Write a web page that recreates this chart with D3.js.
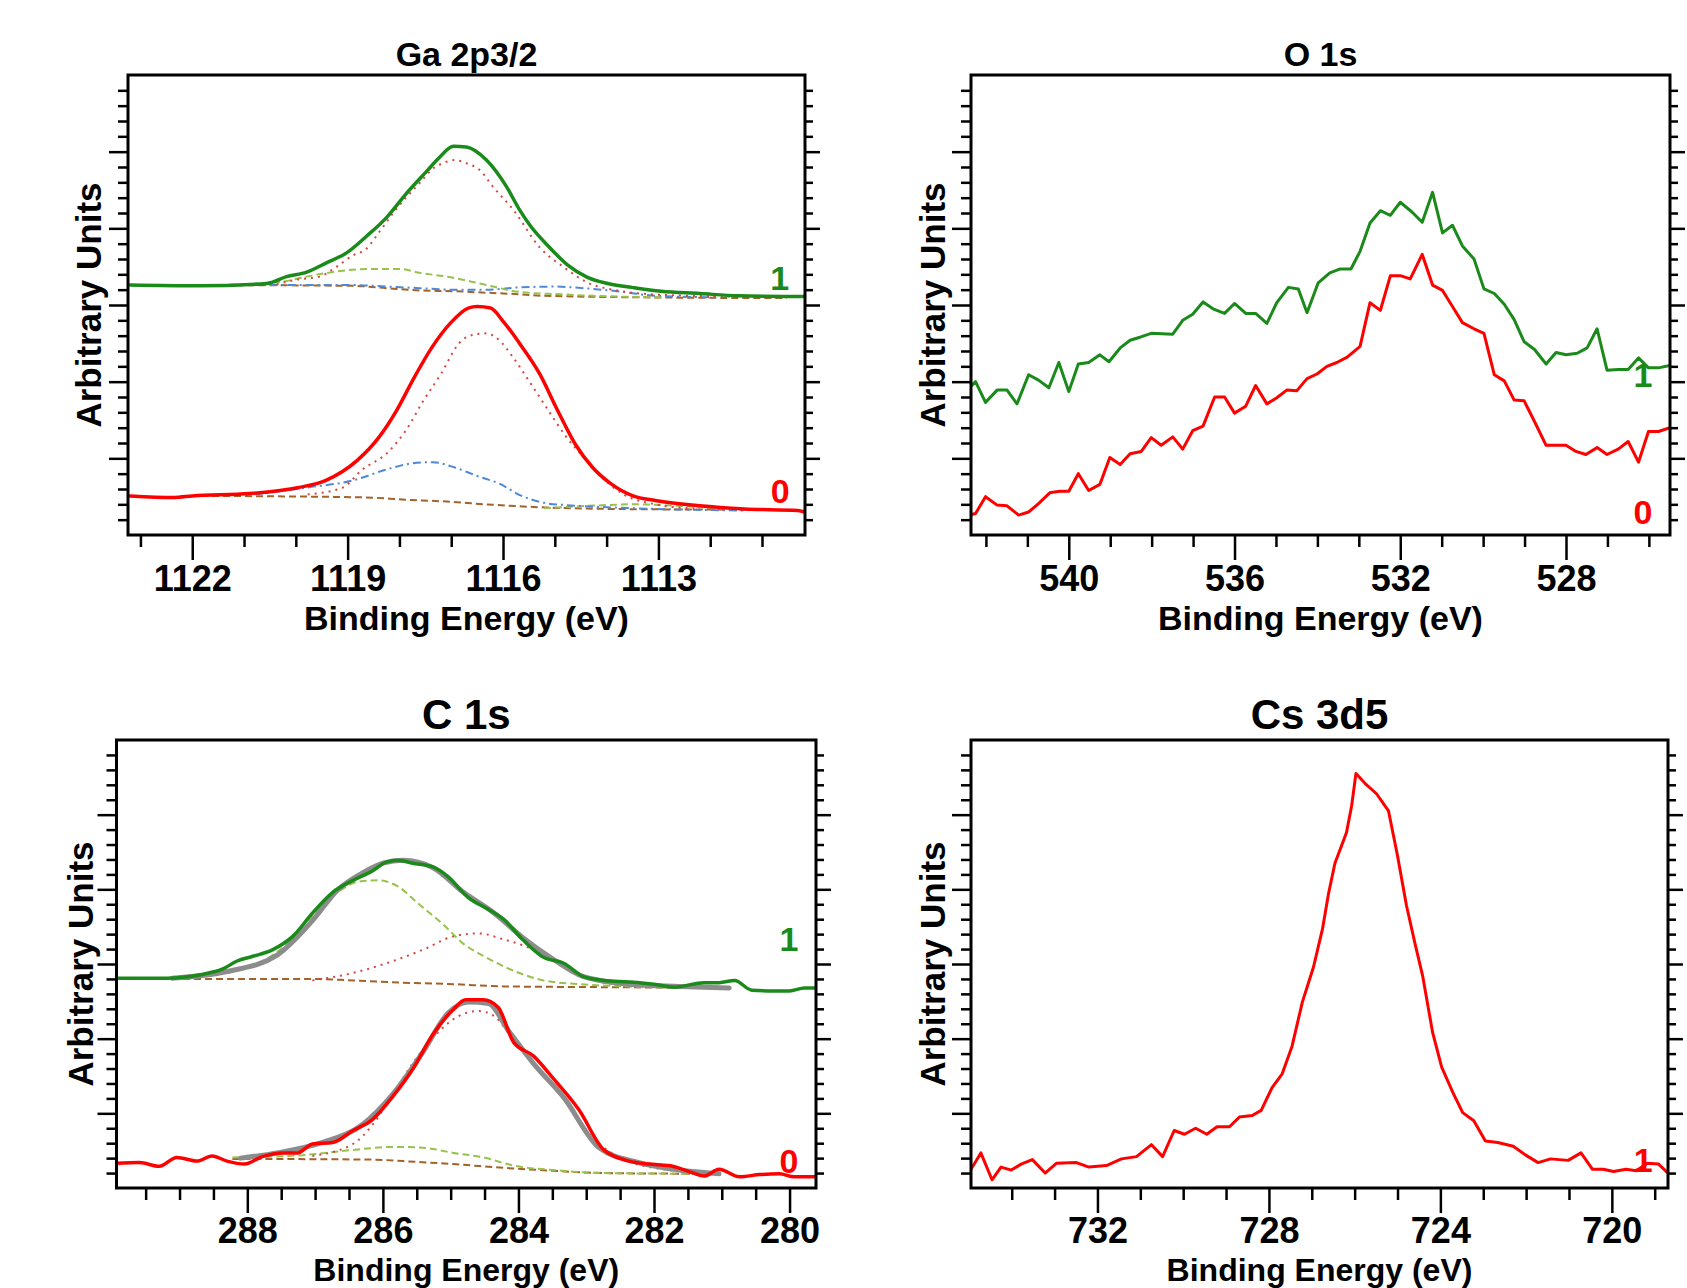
<!DOCTYPE html>
<html>
<head>
<meta charset="utf-8">
<script src="https://cdn.jsdelivr.net/npm/d3@7"></script>
<style>
  body { margin: 0; background: #fff; }
  svg text { font-family: "Liberation Sans", Arial, sans-serif; font-weight: bold; }
</style>
</head>
<body>
<svg id="chart" width="1687" height="1288"></svg>
<script>
// ---- data: [binding energy (eV), intensity (arb. units, stacked)] ----

// Ga 2p3/2, spectrum 1 (green) and its fit components
const gaData1 = [[1123.2,3.26],[1121.9,3.25],[1120.56,3.28],[1120.18,3.37],[1119.79,3.43],[1119.41,3.55],[1119.02,3.68],[1118.63,3.9],[1118.25,4.14],[1117.86,4.46],[1117.48,4.74],[1117.22,4.93],[1116.96,5.07],[1116.71,5.06],[1116.32,4.89],[1115.93,4.54],[1115.68,4.24],[1115.48,4.04],[1115.1,3.75],[1114.75,3.52],[1114.37,3.36],[1113.98,3.28],[1113.51,3.23],[1112.95,3.18],[1112.2,3.15],[1111.46,3.12],[1110.17,3.11]]
const gaPeakA1 = [[1120.37,3.27],[1119.99,3.33],[1119.54,3.37],[1119.21,3.5],[1118.89,3.65],[1118.66,3.72],[1118.38,3.96],[1118.12,4.2],[1117.86,4.41],[1117.61,4.59],[1117.35,4.78],[1117.16,4.85],[1116.93,4.89],[1116.71,4.85],[1116.45,4.76],[1116.19,4.54],[1115.8,4.24],[1115.29,3.75],[1114.82,3.49],[1114.36,3.29],[1113.8,3.19],[1112.86,3.13],[1111.46,3.11]]
const gaPeakB1 = [[1121.5,3.26],[1120.31,3.3],[1119.79,3.37],[1119.28,3.43],[1118.63,3.47],[1117.99,3.47],[1117.61,3.42],[1117.09,3.37],[1116.58,3.3],[1116.19,3.24],[1115.68,3.17],[1114.9,3.14],[1114.26,3.12],[1112.86,3.1]]
const gaPeakC1 = [[1121.2,3.26],[1118.89,3.26],[1118.25,3.24],[1117.61,3.22],[1116.96,3.2],[1116.32,3.2],[1115.68,3.23],[1115.0,3.24],[1114.45,3.22],[1113.8,3.18],[1113.05,3.12],[1111.9,3.1]]
const gaBack1 = [[1121.78,3.26],[1118.89,3.25],[1118.25,3.22],[1117.61,3.19],[1116.96,3.18],[1116.32,3.16],[1115.68,3.14],[1115.2,3.12],[1113.33,3.1],[1110.52,3.09]]

// Ga 2p3/2, spectrum 0 (red)
const gaData0 = [[1123.2,0.51],[1122.35,0.49],[1122.0,0.51],[1120.89,0.54],[1119.94,0.62],[1119.43,0.71],[1118.82,0.97],[1118.39,1.28],[1118.05,1.63],[1117.71,2.06],[1117.36,2.46],[1117.02,2.76],[1116.67,2.96],[1116.5,2.98],[1116.24,2.96],[1115.99,2.78],[1115.64,2.46],[1115.3,2.11],[1114.95,1.63],[1114.61,1.19],[1114.27,0.88],[1113.92,0.67],[1113.49,0.51],[1113.06,0.45],[1112.2,0.38],[1111.34,0.34],[1110.31,0.32],[1110.17,0.3]]
const gaPeakA0 = [[1119.77,0.53],[1119.09,0.62],[1118.74,0.84],[1118.22,1.08],[1117.88,1.36],[1117.53,1.76],[1117.19,2.11],[1116.85,2.5],[1116.59,2.61],[1116.33,2.63],[1116.07,2.54],[1115.82,2.33],[1115.47,1.98],[1115.13,1.63],[1114.78,1.28],[1114.44,1.01],[1114.09,0.75],[1113.67,0.53],[1113.06,0.4],[1112.2,0.34]]
const gaPeakB0 = [[1115.21,0.35],[1114.35,0.38],[1113.49,0.4],[1112.63,0.38],[1111.77,0.34]]
const gaPeakC0 = [[1120.8,0.53],[1119.77,0.62],[1118.91,0.71],[1118.22,0.86],[1117.8,0.93],[1117.36,0.95],[1116.93,0.88],[1116.5,0.77],[1116.07,0.67],[1115.64,0.51],[1115.21,0.42],[1114.78,0.39],[1113.92,0.36],[1113.06,0.34],[1111.34,0.32]]
const gaBack0 = [[1121.83,0.51],[1118.65,0.49],[1117.88,0.46],[1117.19,0.44],[1116.33,0.4],[1115.21,0.36],[1113.92,0.34],[1111.34,0.33]]

// O 1s
const oData1 = [[542.4,1.92],[542.25,2.0],[542.01,1.73],[541.73,1.89],[541.49,1.89],[541.25,1.71],[540.97,2.09],[540.73,2.02],[540.48,1.92],[540.24,2.25],[540.0,1.87],[539.77,2.23],[539.52,2.25],[539.25,2.35],[539.03,2.26],[538.76,2.44],[538.52,2.54],[538.28,2.58],[538.01,2.63],[537.49,2.62],[537.25,2.8],[537.01,2.88],[536.76,3.04],[536.52,2.95],[536.24,2.89],[536.0,3.02],[535.73,2.89],[535.49,2.89],[535.22,2.76],[534.98,3.03],[534.7,3.23],[534.46,3.21],[534.25,2.9],[533.98,3.29],[533.7,3.42],[533.45,3.47],[533.19,3.47],[532.97,3.7],[532.73,4.07],[532.48,4.23],[532.24,4.17],[532.0,4.34],[531.73,4.22],[531.47,4.08],[531.22,4.47],[530.98,3.94],[530.74,4.04],[530.5,3.77],[530.22,3.6],[529.98,3.21],[529.73,3.15],[529.49,3.01],[529.25,2.81],[529.01,2.52],[528.76,2.42],[528.48,2.23],[528.24,2.38],[528.0,2.35],[527.73,2.37],[527.49,2.44],[527.25,2.69],[527.01,2.15],[526.74,2.16],[526.5,2.16],[526.25,2.31],[526.01,2.18],[525.77,2.18],[525.49,2.21]]
const oData0 = [[542.4,0.26],[542.25,0.28],[542.01,0.5],[541.73,0.39],[541.49,0.38],[541.21,0.26],[540.97,0.3],[540.73,0.41],[540.46,0.55],[540.22,0.57],[540.0,0.57],[539.77,0.8],[539.52,0.58],[539.25,0.66],[539.01,1.01],[538.76,0.92],[538.52,1.06],[538.25,1.09],[538.01,1.27],[537.77,1.17],[537.49,1.28],[537.25,1.12],[537.01,1.36],[536.76,1.42],[536.48,1.8],[536.24,1.8],[536.0,1.59],[535.73,1.68],[535.49,1.95],[535.22,1.71],[534.98,1.79],[534.74,1.89],[534.5,1.88],[534.25,2.04],[534.01,2.1],[533.77,2.2],[533.53,2.25],[533.28,2.32],[532.97,2.46],[532.73,3.03],[532.48,2.93],[532.24,3.38],[531.98,3.38],[531.76,3.34],[531.47,3.66],[531.22,3.26],[530.98,3.19],[530.74,2.98],[530.5,2.77],[530.22,2.69],[529.98,2.63],[529.73,2.09],[529.49,2.01],[529.25,1.76],[529.01,1.75],[528.76,1.48],[528.48,1.17],[528.24,1.17],[528.0,1.17],[527.76,1.09],[527.52,1.05],[527.25,1.14],[527.01,1.05],[526.74,1.12],[526.5,1.22],[526.25,0.95],[526.01,1.35],[525.77,1.35],[525.49,1.4]]

// C 1s, spectrum 1 (green)
const cData1 = [[289.93,2.81],[289.63,2.81],[289.19,2.81],[288.67,2.86],[288.37,2.93],[288.15,3.04],[287.93,3.1],[287.63,3.19],[287.33,3.37],[287.04,3.68],[286.74,3.96],[286.44,4.12],[286.15,4.25],[285.96,4.36],[285.78,4.39],[285.56,4.35],[285.26,4.3],[285.04,4.17],[284.74,3.89],[284.44,3.73],[284.22,3.6],[283.93,3.32],[283.63,3.09],[283.33,3.01],[283.04,2.83],[282.74,2.78],[282.37,2.76],[282.0,2.73],[281.7,2.69],[281.26,2.75],[281.04,2.75],[280.81,2.78],[280.56,2.65],[280.22,2.64],[280.0,2.64],[279.78,2.68],[279.61,2.68]]
const cFit1 = [[289.11,2.81],[288.3,2.9],[287.56,3.12],[287.04,3.58],[286.67,3.99],[286.3,4.22],[286.0,4.35],[285.7,4.39],[285.26,4.29],[284.81,3.96],[284.37,3.69],[283.93,3.35],[283.48,3.06],[283.04,2.83],[282.37,2.73],[281.63,2.7],[280.89,2.68]]
const cPeakCO1 = [[289.11,2.8],[288.07,2.93],[287.48,3.22],[287.04,3.65],[286.67,3.96],[286.37,4.1],[286.07,4.12],[285.78,4.04],[285.48,3.81],[285.11,3.53],[284.81,3.27],[284.52,3.11],[284.07,2.91],[283.63,2.78],[283.11,2.73],[282.37,2.7],[281.26,2.68]]
const cPeakCC1 = [[287.04,2.78],[286.44,2.88],[285.85,3.04],[285.41,3.19],[284.96,3.37],[284.59,3.41],[284.22,3.33],[283.85,3.22],[283.48,3.04],[283.11,2.86],[282.74,2.75],[282.0,2.7]]
const cBack1 = [[289.11,2.8],[287.04,2.8],[286.44,2.78],[285.7,2.75],[284.96,2.73],[284.22,2.7],[282.74,2.69],[280.89,2.68]]

// C 1s, spectrum 0 (red)
const cData0 = [[289.93,0.33],[289.59,0.34],[289.3,0.29],[289.04,0.41],[288.74,0.36],[288.52,0.43],[288.3,0.36],[288.04,0.32],[287.78,0.42],[287.48,0.47],[287.26,0.47],[287.04,0.59],[286.74,0.61],[286.44,0.77],[286.15,0.92],[285.85,1.23],[285.56,1.59],[285.26,2.06],[284.96,2.39],[284.78,2.52],[284.52,2.52],[284.3,2.42],[284.07,1.95],[283.78,1.77],[283.48,1.46],[283.11,1.05],[282.74,0.51],[282.37,0.36],[282.07,0.32],[281.78,0.3],[281.48,0.22],[281.26,0.16],[281.04,0.25],[280.74,0.15],[280.44,0.18],[280.15,0.19],[279.93,0.15],[279.61,0.15]]
const cFit0 = [[288.1,0.4],[287.56,0.47],[286.89,0.61],[286.3,0.85],[285.85,1.26],[285.41,1.82],[285.04,2.34],[284.74,2.49],[284.44,2.47],[284.15,2.11],[283.78,1.67],[283.33,1.21],[282.81,0.54],[282.22,0.34],[281.63,0.24],[281.04,0.19]]
const cPeakCC0 = [[287.04,0.43],[286.44,0.59],[286.15,0.85],[285.85,1.26],[285.56,1.67],[285.19,2.08],[284.89,2.3],[284.59,2.37],[284.37,2.31],[284.07,1.98],[283.78,1.67],[283.33,1.21],[282.89,0.66],[282.44,0.38],[281.85,0.25],[281.11,0.2]]
const cPeakCO0 = [[288.22,0.41],[287.19,0.44],[286.44,0.51],[285.85,0.55],[285.41,0.54],[284.96,0.47],[284.52,0.41],[284.07,0.3],[283.48,0.24],[282.74,0.2],[281.26,0.19]]
const cBack0 = [[288.22,0.39],[286.15,0.38],[285.7,0.36],[284.96,0.32],[284.22,0.27],[283.48,0.23],[282.74,0.2],[281.04,0.19]]

// Cs 3d5
const csData1 = [[734.95,0.25],[734.72,0.47],[734.46,0.11],[734.25,0.28],[734.01,0.24],[733.78,0.32],[733.52,0.38],[733.22,0.2],[732.96,0.33],[732.49,0.34],[732.2,0.28],[731.79,0.3],[731.44,0.39],[731.09,0.42],[730.74,0.58],[730.48,0.42],[730.21,0.77],[729.97,0.72],[729.71,0.8],[729.45,0.72],[729.21,0.82],[728.92,0.82],[728.69,0.95],[728.39,0.97],[728.18,1.04],[727.93,1.34],[727.69,1.53],[727.46,1.9],[727.22,2.49],[726.96,2.96],[726.75,3.47],[726.61,3.94],[726.46,4.35],[726.19,4.76],[726.07,5.12],[725.97,5.55],[725.76,5.42],[725.49,5.28],[725.21,5.05],[725.0,4.45],[724.79,3.78],[724.59,3.27],[724.41,2.83],[724.18,2.08],[723.97,1.62],[723.71,1.28],[723.48,1.01],[723.22,0.9],[722.95,0.63],[722.66,0.61],[722.3,0.56],[722.01,0.44],[721.72,0.34],[721.43,0.39],[721.02,0.37],[720.72,0.47],[720.45,0.25],[720.2,0.25],[719.96,0.22],[719.67,0.25],[719.43,0.23],[719.17,0.33],[718.91,0.32],[718.69,0.2]]

// ticks
const gaMajor = [1122, 1119, 1116, 1113]
const oMajor = [540, 536, 532, 528]
const cMajor = [288, 286, 284, 282, 280]
const csMajor = [732, 728, 724, 720]
const yMajor = [1, 2, 3, 4, 5]
const yMinor = d3.range(1, 30).filter((i) => i % 5 !== 0).map((i) => i / 5)

// ---- drawing ----
const svg = d3.select("#chart")

const col = {
  green: "#1a8a1a",
  red: "#ff0000",
  peakRed: "#d4473f",
  peakGreen: "#97c24c",
  peakBlue: "#4f88d6",
  back: "#a3622a",
  fit: "#8c8c8c",
}

const dataLine = (data, color) => ({ data, color, width: 3.5, smooth: true })
const fitLine = (data) => ({ data, color: col.fit, width: 5, smooth: true })
const dotted = (data) => ({ data, color: col.peakRed, width: 2, dash: "2,5", smooth: true })
const dashedG = (data) => ({ data, color: col.peakGreen, width: 2, dash: "7,4", smooth: true })
const dashDot = (data) => ({ data, color: col.peakBlue, width: 2, dash: "8,4,2,4", smooth: true })
const backLine = (data) => ({ data, color: col.back, width: 2, dash: "7,4", smooth: true })

function minorTicks(lo, hi, step, majors) {
  const n = Math.round((hi - lo) / step)
  return d3.range(0, n + 1).map((i) => +(lo + i * step).toFixed(2)).filter((v) => !majors.includes(v))
}

function drawPanel(p) {
  const x = d3.scaleLinear().domain(p.xDomain).range([p.left, p.right])
  const y = d3.scaleLinear().domain([0, 6]).range([p.bottom, p.top])
  const g = svg.append("g")

  const clipId = "clip-" + p.id
  svg.append("clipPath").attr("id", clipId)
    .append("rect")
    .attr("x", p.left).attr("y", p.top)
    .attr("width", p.right - p.left).attr("height", p.bottom - p.top)

  // series
  const lines = g.append("g").attr("clip-path", `url(#${clipId})`)
  p.series.forEach((s) => {
    const line = d3.line()
      .x((d) => x(d[0]))
      .y((d) => y(d[1]))
      .curve(s.smooth ? d3.curveMonotoneX : d3.curveLinear)
    lines.append("path")
      .datum(s.data)
      .attr("d", line)
      .attr("fill", "none")
      .attr("stroke", s.color)
      .attr("stroke-width", s.width)
      .attr("stroke-dasharray", s.dash || null)
      .attr("stroke-linejoin", "round")
      .attr("stroke-linecap", s.dash ? "butt" : "round")
  })

  // axes
  const styleAxis = (sel) => {
    sel.select(".domain").remove()
    sel.selectAll(".tick line").attr("stroke", "#000").attr("stroke-width", 2.5)
    sel.attr("font-family", null).attr("font-size", null)
  }
  g.append("g").attr("transform", `translate(0,${p.bottom})`)
    .call(d3.axisBottom(x).tickValues(p.xMinor).tickSize(12).tickFormat(""))
    .call(styleAxis)
  g.append("g").attr("transform", `translate(0,${p.bottom})`)
    .call(d3.axisBottom(x).tickValues(p.xMajor).tickSize(25).tickPadding(p.tickPad).tickFormat(d3.format("d")))
    .call(styleAxis)
    .selectAll("text").attr("fill", "#000").style("font-size", "36px")
  g.append("g").attr("transform", `translate(${p.left},0)`)
    .call(d3.axisLeft(y).tickValues(yMinor).tickSize(10).tickFormat(""))
    .call(styleAxis)
  g.append("g").attr("transform", `translate(${p.left},0)`)
    .call(d3.axisLeft(y).tickValues(yMajor).tickSize(19).tickFormat(""))
    .call(styleAxis)
  g.append("g").attr("transform", `translate(${p.right},0)`)
    .call(d3.axisRight(y).tickValues(yMinor).tickSize(8).tickFormat(""))
    .call(styleAxis)
  g.append("g").attr("transform", `translate(${p.right},0)`)
    .call(d3.axisRight(y).tickValues(yMajor).tickSize(15).tickFormat(""))
    .call(styleAxis)

  // frame
  g.append("rect")
    .attr("x", p.left).attr("y", p.top)
    .attr("width", p.right - p.left).attr("height", p.bottom - p.top)
    .attr("fill", "none").attr("stroke", "#000").attr("stroke-width", 3)

  // texts
  const cx = (p.left + p.right) / 2
  g.append("text")
    .attr("x", cx).attr("y", p.titleY)
    .attr("text-anchor", "middle")
    .style("font-size", p.titleSize + "px")
    .text(p.title)
  g.append("text")
    .attr("x", cx).attr("y", p.xLabelY)
    .attr("text-anchor", "middle")
    .style("font-size", p.xLabelSize + "px")
    .text("Binding Energy (eV)")
  g.append("text")
    .attr("transform", `translate(${p.yLabelX},${(p.top + p.bottom) / 2}) rotate(-90)`)
    .attr("text-anchor", "middle")
    .style("font-size", "35px")
    .text("Arbitrary Units")

  p.tags.forEach((t) => {
    g.append("text")
      .attr("x", x(t.e)).attr("y", y(t.v))
      .attr("text-anchor", "middle")
      .attr("fill", t.color)
      .style("font-size", "34px")
      .text(t.text)
  })
}

drawPanel({
  id: "ga", title: "Ga 2p3/2", titleSize: 34, titleY: 66, xLabelY: 630, xLabelSize: 34, yLabelX: 101, tickPad: 5,
  left: 128, right: 805, top: 75, bottom: 535,
  xDomain: [1123.24, 1110.17],
  xMajor: gaMajor, xMinor: minorTicks(1111, 1123, 1, gaMajor),
  series: [
    backLine(gaBack1), dashDot(gaPeakC1), dashedG(gaPeakB1), dotted(gaPeakA1), dataLine(gaData1, col.green),
    backLine(gaBack0), dashedG(gaPeakB0), dashDot(gaPeakC0), dotted(gaPeakA0), dataLine(gaData0, col.red),
  ],
  tags: [
    { text: "1", e: 1110.66, v: 3.2, color: col.green },
    { text: "0", e: 1110.65, v: 0.42, color: col.red },
  ],
})

drawPanel({
  id: "o", title: "O 1s", titleSize: 34, titleY: 66, xLabelY: 630, xLabelSize: 34, yLabelX: 945, tickPad: 5,
  left: 971, right: 1670, top: 75, bottom: 535,
  xDomain: [542.36, 525.49],
  xMajor: oMajor, xMinor: minorTicks(526, 542, 1, oMajor),
  series: [
    { data: oData1, color: col.green, width: 3 },
    { data: oData0, color: col.red, width: 3 },
  ],
  tags: [
    { text: "1", e: 526.14, v: 1.93, color: col.green },
    { text: "0", e: 526.14, v: 0.14, color: col.red },
  ],
})

drawPanel({
  id: "c", title: "C 1s", titleSize: 42, titleY: 729, xLabelY: 1281, xLabelSize: 32, yLabelX: 93, tickPad: 4,
  left: 116.5, right: 816, top: 740, bottom: 1188,
  xDomain: [289.93, 279.61],
  xMajor: cMajor, xMinor: minorTicks(280, 289.5, 0.5, cMajor),
  series: [
    backLine(cBack1), dashedG(cPeakCO1), dotted(cPeakCC1), fitLine(cFit1), dataLine(cData1, col.green),
    backLine(cBack0), dashedG(cPeakCO0), dotted(cPeakCC0), fitLine(cFit0), dataLine(cData0, col.red),
  ],
  tags: [
    { text: "1", e: 280.01, v: 3.17, color: col.green },
    { text: "0", e: 280.01, v: 0.2, color: col.red },
  ],
})

drawPanel({
  id: "cs", title: "Cs 3d5", titleSize: 42, titleY: 729, xLabelY: 1281, xLabelSize: 32, yLabelX: 945, tickPad: 4,
  left: 971, right: 1668, top: 740, bottom: 1188,
  xDomain: [734.95, 718.69],
  xMajor: csMajor, xMinor: minorTicks(719, 734, 1, csMajor),
  series: [
    { data: csData1, color: col.red, width: 3 },
  ],
  tags: [
    { text: "1", e: 719.27, v: 0.21, color: col.red },
  ],
})
</script>
</body>
</html>
